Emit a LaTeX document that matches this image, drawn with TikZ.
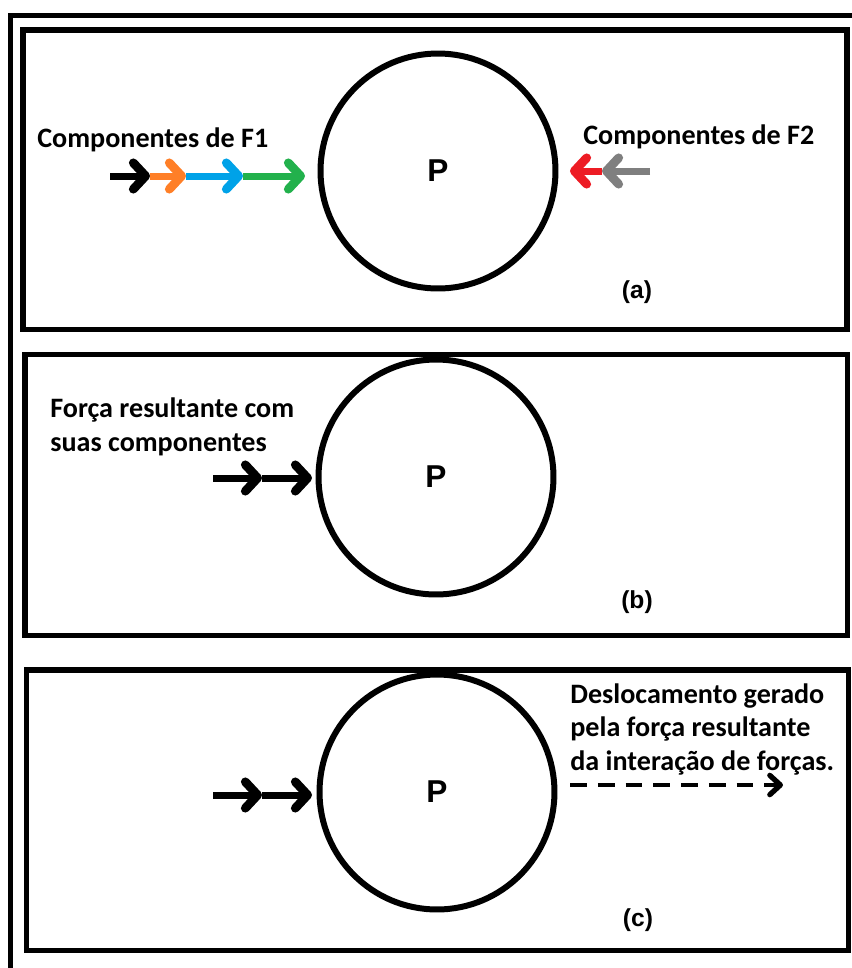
\documentclass[tikz,border=0pt]{standalone}
\usepackage{fontspec}
\setmainfont{Carlito}
\newfontfamily\arialfont{Liberation Sans}
\usetikzlibrary{arrows.meta}
\definecolor{paintorange}{HTML}{FF7F27}
\definecolor{paintblue}{HTML}{00A2E8}
\definecolor{paintgreen}{HTML}{22B14C}
\definecolor{paintred}{HTML}{ED1C24}
\definecolor{paintgray}{HTML}{7F7F7F}

\begin{document}
\begin{tikzpicture}
        [x=0.02cm, y=-0.02cm,
        frame/.style={draw=black, line width=0.11cm},
        body/.style={circle, draw=black, line width=0.12cm, minimum size=4.7cm,
            inner sep=0pt, font=\arialfont\bfseries\fontsize{18}{20}\selectfont},
        force/.style={line width=0.14cm,
            -{Straight Barb[length=7pt,width=15pt,line width=5pt,round]}},
        caption/.style={font=\bfseries\fontsize{16}{19}\selectfont, align=left,
            inner sep=0pt, anchor=base west},
        tag/.style={font=\arialfont\bfseries\fontsize{14}{16}\selectfont}]
        \useasboundingbox (0,0) rectangle (852,968);
        % outer frame (cut off at the right and bottom)
        \draw [frame, line width=0.1cm] (852,15.5) -- (10.5,15.5) -- (10.5,968);
        % the three panels
        \draw [frame] (23,30) rectangle (847,329.5);
        \draw [frame] (25,354.5) rectangle (847.5,635.5);
        \draw [frame] (26.5,670) rectangle (848.5,950.5);

        % (a)
        \node [body] (bodyA) at (438,171) {P};
        \node [caption] (labelF1) at (37,147) {Componentes de F1};
        \node [caption] (labelF2) at (583,144) {Componentes de F2};
        \coordinate (f1a) at (110,176);
        \coordinate (f1b) at (150,176);
        \coordinate (f1c) at (186,176);
        \coordinate (f1d) at (243,176);
        \coordinate (f1e) at (305,176);
        \draw [force, black] (f1a) -- (f1b);
        \draw [force, paintorange] (f1b) -- (f1c);
        \draw [force, paintblue] (f1c) -- (f1d);
        \draw [force, paintgreen] (f1d) -- (f1e);
        \coordinate (f2a) at (650,171);
        \coordinate (f2b) at (602,171);
        \coordinate (f2c) at (570,171);
        \draw [force, paintgray] (f2a) -- (f2b);
        \draw [force, paintred] (f2b) -- (f2c);
        \node [tag] (tagA) at (637,292) {(a)};

        % (b)
        \node [body] (bodyB) at (436,477) {P};
        \node [caption] (labelR) at (50,451) {Força resultante com\\suas componentes};
        \coordinate (rba) at (213,478);
        \coordinate (rbb) at (262,478);
        \coordinate (rbc) at (312,478);
        \draw [force] (rba) -- (rbb);
        \draw [force] (rbb) -- (rbc);
        \node [tag] (tagB) at (637,602) {(b)};

        % (c)
        \node [body] (bodyC) at (437,792) {P};
        \node [caption] (labelD) at (570,770)
            {Deslocamento gerado\\pela força resultante\\da interação de forças.};
        \coordinate (rca) at (213,795);
        \coordinate (rcb) at (262,795);
        \coordinate (rcc) at (312,795);
        \draw [force] (rca) -- (rcb);
        \draw [force] (rcb) -- (rcc);
        \coordinate (da) at (570,785);
        \coordinate (db) at (783,785);
        \draw [line width=0.08cm, dash pattern=on 9.6pt off 6.2pt,
            -{Straight Barb[length=6pt,width=11pt,line width=3pt,round]}] (da) -- (db);
        \node [tag] (tagC) at (638,920) {(c)};
\end{tikzpicture}
\end{document}
